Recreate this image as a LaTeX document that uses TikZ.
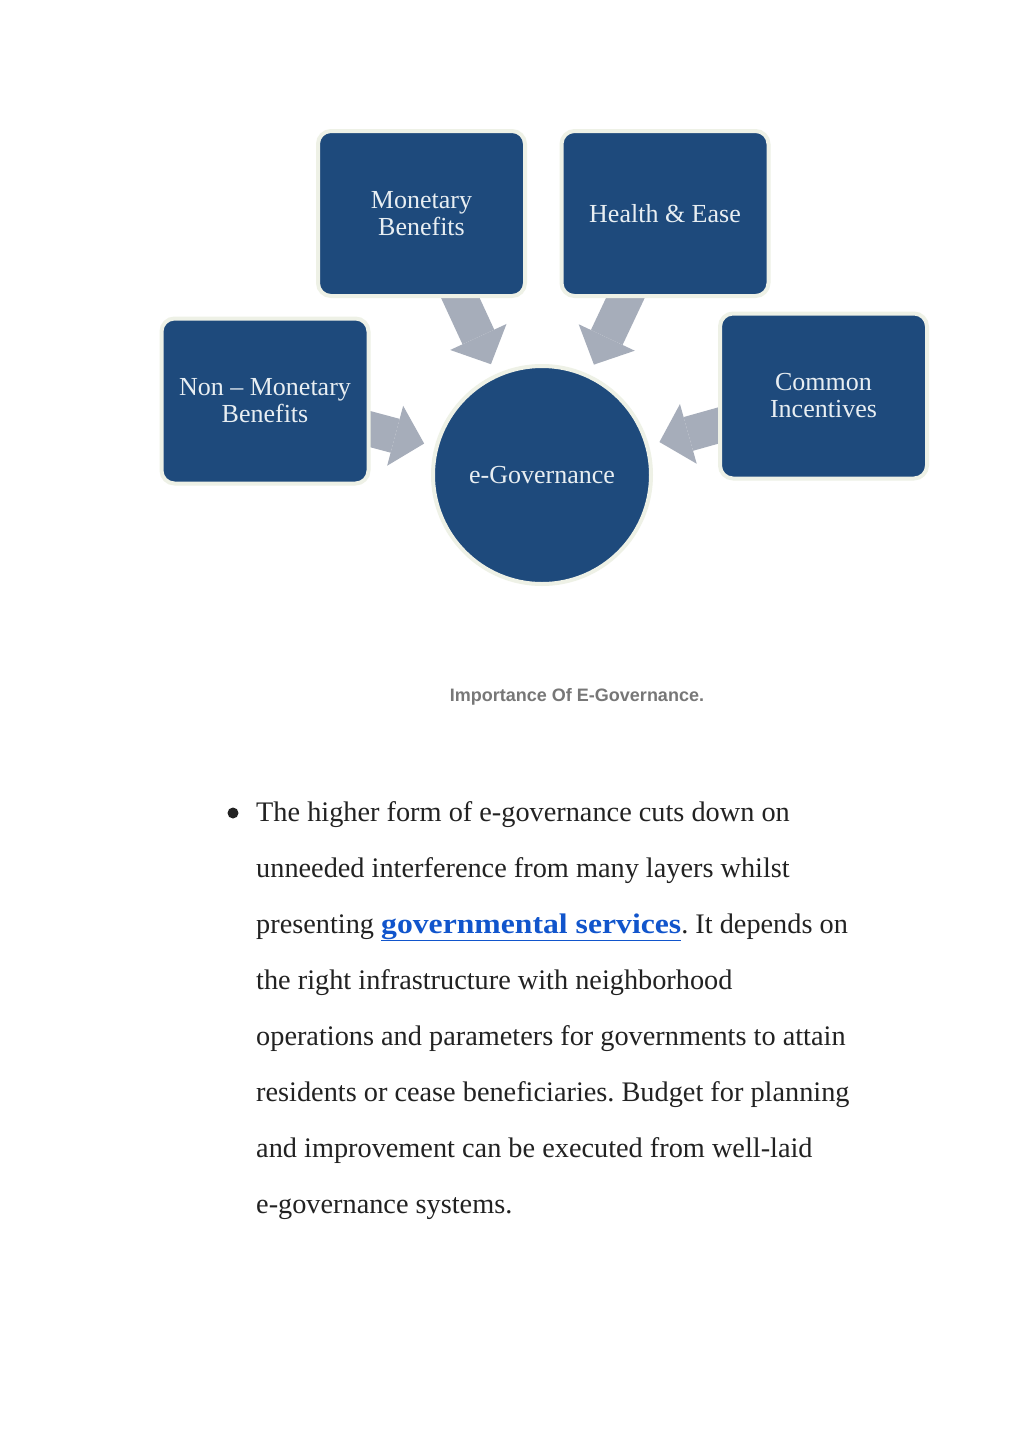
\documentclass[tikz,border=0pt]{standalone}
\usepackage{fontspec}
\setmainfont{Liberation Serif}
\newfontfamily\capfont{Liberation Sans}
\newfontfamily\linkfont{Liberation Serif}[FakeStretch=1.12]
\usetikzlibrary{arrows.meta,backgrounds}
\definecolor{boxblue}{HTML}{1E4A7C}
\definecolor{boxrim}{HTML}{EEF1E6}
\definecolor{arrowgray}{HTML}{A6ADBA}
\definecolor{boxtext}{HTML}{E8EEF2}
\definecolor{bodytext}{HTML}{222222}
\definecolor{linkblue}{HTML}{1155CC}
\definecolor{captiongray}{HTML}{777777}
\newcommand\weblink[1]{{\linkfont\bfseries\color{linkblue}\underline{#1}}}
\frenchspacing
\tikzset{
  topic/.style={draw=boxrim, line width=4pt, fill=boxblue, rounded corners=13pt,
    minimum width=207pt, minimum height=165pt, text=boxtext, align=center,
    font=\fontsize{26}{27}\selectfont},
  hub/.style={circle, draw=boxrim, line width=4pt, fill=boxblue, minimum size=218pt,
    text=boxtext, font=\fontsize{26}{27}\selectfont},
  feed/.style={draw=arrowgray, line width=35pt, shorten <=-15pt, shorten >=11pt,
    -{Triangle[width=62pt,length=30pt,line width=0pt]}},
  bodyline/.style={anchor=base west, inner sep=0pt, text=bodytext,
    font=\fontsize{28.3}{30}\selectfont}
}
\begin{document}
\begin{tikzpicture}[x=1pt,y=-1pt]
    \useasboundingbox (0,0) rectangle (1024,1446);
    % diagram
    \node [topic] (mon) at (421.5,213.5) {Monetary\\Benefits};
    \node [topic] (hea) at (665,213.5) {Health \& Ease};
    \node [topic] (non) at (265,401) {Non -- Monetary\\Benefits};
    \node [topic] (com) at (823.5,396) {Common\\Incentives};
    \node [hub] (gov) at (542,475) {e-Governance};
    \begin{scope}[on background layer]
        \fill [white] (0,0) rectangle (1024,1446);
        \foreach \src in {mon,hea,non,com} {
            \draw [feed] (\src) -- (gov);
        }
    \end{scope}
    \node [text=captiongray, font=\capfont\bfseries\fontsize{18}{20}\selectfont] (cap) at (577,697) {Importance Of E-Governance.};
    % bullet text
    \node [circle, fill=bodytext, minimum size=11pt, inner sep=0pt] (dot) at (233,813) {};
    \foreach \txt [count=\i] in {
        {The higher form of e-governance cuts down on},
        {unneeded interference from many layers whilst},
        {presenting \weblink{governmental services}. It depends on},
        {the right infrastructure with neighborhood},
        {operations and parameters for governments to attain},
        {residents or cease beneficiaries. Budget for planning},
        {and improvement can be executed from well-laid},
        {e-governance systems.}} {
        \node [bodyline] (l\i) at (256,765+56*\i) {\txt};
    }
\end{tikzpicture}
\end{document}
